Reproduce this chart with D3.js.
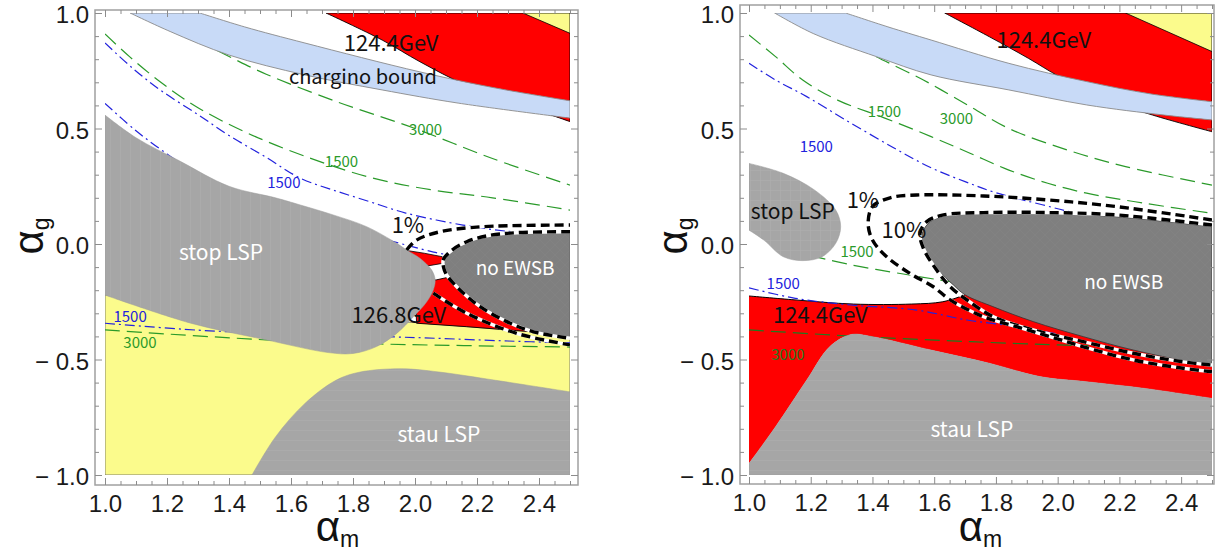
<!DOCTYPE html>
<html><head><meta charset="utf-8">
<script src="https://cdn.jsdelivr.net/npm/d3@7"></script>
<style>body{margin:0;background:#fff}svg{display:block}</style>
</head><body>
<script>
// ---------------- axes / ticks ----------------
const X_DOMAIN = [1.0, 2.5];
const Y_DOMAIN = [-1.0, 1.0];
const X_MAJOR = [1.0, 1.2, 1.4, 1.6, 1.8, 2.0, 2.2, 2.4];
const Y_MAJOR = [-1.0, -0.5, 0.0, 0.5, 1.0];

// ---------------- LEFT PANEL data (alpha_m, alpha_g) ----------------
const L_yellow = [[1.0,-1.0],[1.0,-0.22],[1.5,-0.30],[2.0,-0.34],[2.38,-0.38],[2.5,-0.39],[2.5,-1.0]];
const L_redTop = [[1.713,1.0],[1.894,0.883],[2.016,0.789],[2.165,0.688],[2.35,0.60],[2.5,0.53]];
const L_yellowCorner = [[2.348,1.0],[2.5,0.912]];
const L_bandTop = [[1.306,1.0],[1.45,0.94],[1.645,0.87],[2.016,0.745],[2.261,0.675],[2.5,0.62]];
const L_bandBottom = [[2.5,0.545],[2.139,0.61],[1.894,0.667],[1.645,0.732],[1.4,0.818],[1.21,0.92],[1.081,1.0]];
const L_stop = [[1.0,0.558],[1.1,0.46],[1.24,0.36],[1.4,0.25],[1.55,0.2],[1.63,0.169],[1.736,0.126],[1.844,0.075],[1.941,0.003],[1.973,-0.026],[2.016,-0.062],[2.054,-0.113],[2.065,-0.156],[2.059,-0.199],[2.038,-0.25],[1.995,-0.315],[1.941,-0.387],[1.876,-0.444],[1.8,-0.474],[1.72,-0.47],[1.52,-0.415],[1.277,-0.343],[1.0,-0.221]];
const L_stau = [[1.474,-1.0],[1.55,-0.835],[1.645,-0.69],[1.745,-0.59],[1.82,-0.555],[1.955,-0.54],[2.077,-0.554],[2.26,-0.59],[2.5,-0.64]];
const L_noEWSB = [[2.5,0.053],[2.328,0.049],[2.231,0.035],[2.167,0.01],[2.113,-0.033],[2.091,-0.069],[2.092,-0.1],[2.102,-0.134],[2.145,-0.199],[2.21,-0.271],[2.296,-0.336],[2.382,-0.38],[2.5,-0.408]];
const L_redPiece = [[1.973,-0.028],[2.03,-0.04],[2.088,-0.055],[2.092,-0.083],[2.04,-0.095]];
const L_redWedge = [[2.0,-0.17],[2.07,-0.155],[2.104,-0.145],[2.145,-0.199],[2.21,-0.271],[2.296,-0.336],[2.382,-0.38],[2.328,-0.375],[2.167,-0.358],[2.005,-0.343]];
const L_green3000 = [[1.3,0.88],[1.41,0.805],[1.52,0.735],[1.75,0.615],[2.0,0.5],[2.25,0.37],[2.5,0.255]];
const L_green1500 = [[1.0,0.909],[1.08,0.81],[1.18,0.70],[1.30,0.59],[1.46,0.48],[1.645,0.38],[1.85,0.29],[2.05,0.235],[2.25,0.2],[2.5,0.147]];
const L_blueA = [[1.0,0.87],[1.09,0.76],[1.18,0.665],[1.3,0.56],[1.4,0.47],[1.52,0.375],[1.63,0.285],[1.735,0.234],[1.85,0.185],[1.97,0.134],[2.155,0.082],[2.3,0.055],[2.42,0.045]];
const L_blueB = [[1.0,0.609],[1.1,0.49],[1.2,0.39],[1.3,0.30],[1.5,0.18],[1.7,0.08],[1.85,0.035],[1.93,0.01],[2.06,-0.035],[2.12,-0.05]];
const L_blueLow = [[1.0,-0.343],[1.3,-0.373],[1.6,-0.39],[2.0,-0.405],[2.3,-0.42],[2.5,-0.428]];
const L_greenLow = [[1.0,-0.372],[1.52,-0.415],[1.89,-0.433],[2.5,-0.446]];
const L_c1Up = [[1.973,-0.026],[2.005,0.017],[2.081,0.053],[2.22,0.075],[2.5,0.082]];
const L_c1Low = [[2.059,-0.213],[2.167,-0.30],[2.328,-0.387],[2.5,-0.437]];

// ---------------- RIGHT PANEL data ----------------
const R_redTop = [[1.634,1.0],[1.779,0.897],[1.905,0.804],[2.006,0.724],[2.15,0.63],[2.308,0.558],[2.5,0.486]];
const R_yellowCorner = [[2.22,1.0],[2.5,0.833]];
const R_bandTop = [[1.313,1.0],[1.45,0.94],[1.59,0.883],[1.842,0.782],[2.094,0.703],[2.3,0.65],[2.5,0.616]];
const R_bandBottom = [[2.5,0.537],[2.346,0.558],[2.094,0.602],[1.842,0.667],[1.59,0.732],[1.413,0.811],[1.21,0.91],[1.083,1.0]];
const R_stop = [[1.0,0.349],[1.111,0.306],[1.212,0.234],[1.281,0.147],[1.297,0.075],[1.281,0.003],[1.237,-0.055],[1.174,-0.072],[1.111,-0.055],[1.048,0.017],[1.0,0.06]];
const R_noEWSB = [[2.5,0.075],[2.19,0.118],[1.975,0.133],[1.76,0.133],[1.652,0.126],[1.587,0.097],[1.56,0.039],[1.57,-0.026],[1.613,-0.113],[1.662,-0.177],[1.70,-0.22],[1.79,-0.271],[1.921,-0.336],[2.083,-0.401],[2.245,-0.459],[2.5,-0.531]];
const R_redLowTop = [[1.0,-0.225],[1.149,-0.242],[1.338,-0.26],[1.527,-0.26],[1.628,-0.25],[1.70,-0.22]];
const R_stauTop = [[1.0,-0.95],[1.086,-0.791],[1.187,-0.589],[1.262,-0.444],[1.33,-0.392],[1.4,-0.401],[1.59,-0.459],[1.779,-0.516],[1.943,-0.574],[2.094,-0.596],[2.283,-0.625],[2.5,-0.668]];
const R_green1500 = [[1.0,0.905],[1.086,0.811],[1.174,0.71],[1.287,0.623],[1.44,0.545],[1.59,0.465],[1.716,0.393],[1.842,0.32],[1.968,0.263],[2.094,0.22],[2.283,0.176],[2.5,0.133]];
const R_green3000 = [[1.35,0.86],[1.413,0.811],[1.565,0.71],[1.716,0.595],[1.842,0.50],[2.031,0.407],[2.22,0.335],[2.5,0.255]];
const R_blueUp = [[1.0,0.782],[1.086,0.71],[1.187,0.638],[1.313,0.537],[1.464,0.42],[1.59,0.33],[1.7,0.27],[1.8,0.222],[1.95,0.17],[2.06,0.134],[2.2,0.11]];
const R_greenMid = [[1.2,-0.05],[1.33,-0.09],[1.5,-0.13],[1.62,-0.156],[1.7,-0.17]];
const R_blueLow = [[1.0,-0.19],[1.15,-0.235],[1.33,-0.264],[1.543,-0.286],[1.706,-0.329],[1.867,-0.358],[2.0,-0.39]];
const R_greenLow = [[1.0,-0.372],[1.35,-0.40],[1.72,-0.423],[2.0,-0.437],[2.1,-0.44]];
const R_c1 = [[2.5,0.104],[2.19,0.162],[1.975,0.19],[1.76,0.208],[1.543,0.212],[1.457,0.2],[1.40,0.162],[1.386,0.09],[1.40,0.017],[1.446,-0.055],[1.52,-0.126],[1.597,-0.185],[1.652,-0.242],[1.76,-0.315],[1.867,-0.358],[1.975,-0.401],[2.083,-0.445],[2.245,-0.502],[2.406,-0.538],[2.5,-0.553]];
const R_c10 = [[2.5,0.082],[2.19,0.126],[1.975,0.136],[1.76,0.136],[1.63,0.126],[1.576,0.097],[1.554,0.046],[1.565,-0.019],[1.608,-0.113],[1.652,-0.185],[1.706,-0.242],[1.792,-0.315],[1.921,-0.372],[2.083,-0.423],[2.245,-0.473],[2.406,-0.51],[2.5,-0.524]];

// ---------------- annotations ----------------
const L_text = [
  ["124.4GeV",1.923,0.87,"#111",22],["chargino bound",1.832,0.723,"#111",20],
  ["3000",2.034,0.494,"#2a9a2a",15],["1500",1.763,0.355,"#2a9a2a",15],["1500",1.577,0.264,"#2222dd",15],
  ["1%",1.977,0.082,"#111",22],["stop LSP",1.374,-0.039,"#fff",21],["no EWSB",2.323,-0.104,"#fff",19],
  ["126.8GeV",1.948,-0.307,"#111",22],["stau LSP",2.077,-0.827,"#fff",21],
  ["1500",1.081,-0.316,"#2222dd",15],["3000",1.113,-0.429,"#2a9a2a",15]
];
const R_text = [
  ["124.4GeV",1.955,0.883,"#111",22],["1500",1.439,0.573,"#2a9a2a",15],["3000",1.672,0.544,"#2a9a2a",15],
  ["1500",1.218,0.421,"#2222dd",15],["1%",1.369,0.19,"#111",22],["10%",1.502,0.061,"#111",22],
  ["stop LSP",1.142,0.14,"#111",21],["1500",1.35,-0.033,"#2a9a2a",15],["1500",1.111,-0.17,"#2222dd",15],
  ["124.4GeV",1.231,-0.307,"#111",22],["3000",1.126,-0.48,"#1f7a1f",15],["no EWSB",2.214,-0.167,"#fff",19],
  ["stau LSP",1.722,-0.805,"#fff",21]
];

const C = {red:"#ff0000", yellow:"#fbfb8c", band:"#c8daf7", gray:"#a6a6a6", dark:"#7f7f7f",
           green:"#2a9a2a", dgreen:"#1f7a1f", blue:"#2222dd"};
const FT = "'Liberation Sans', Arial, sans-serif";
const FL = "'Noto Sans CJK JP','Noto Sans', sans-serif";

const svg = d3.select("body").append("svg").attr("width",1230).attr("height",554);
const defs = svg.append("defs");
// subtle textures
function pat(id, bg, fg, paths, size){
  const p = defs.append("pattern").attr("id",id).attr("patternUnits","userSpaceOnUse").attr("width",size).attr("height",size);
  p.append("rect").attr("width",size).attr("height",size).attr("fill",bg);
  paths.forEach(d=>p.append("path").attr("d",d).attr("stroke",fg).attr("stroke-width",0.7).attr("fill","none"));
}
pat("pv", C.gray, "#adadad", ["M0.5,0V10"], 10);
pat("ph", C.gray, "#adadad", ["M0,0.5H10"], 10);
pat("pg", C.gray, "#aeaeae", ["M0.5,0V10","M0,0.5H10"], 10);
pat("px", C.dark, "#848484", ["M0,10L10,0","M0,0L10,10"], 10);

function panel(o){
  const sx = d3.scaleLinear().domain(X_DOMAIN).range(o.xr);
  const sy = d3.scaleLinear().domain(Y_DOMAIN).range([475,13]);
  const g = svg.append("g");
  const cid = "clip"+o.id;
  defs.append("clipPath").attr("id",cid).append("rect")
    .attr("x",sx(1)).attr("y",sy(1)).attr("width",sx(2.5)-sx(1)).attr("height",sy(-1)-sy(1));
  const plot = g.append("g").attr("clip-path",`url(#${cid})`);
  const smooth = d3.line().x(d=>sx(d[0])).y(d=>sy(d[1])).curve(d3.curveCatmullRom.alpha(0.5));
  const straight = d3.line().x(d=>sx(d[0])).y(d=>sy(d[1]));
  const region = segs => segs.map((s,i)=>{const p=(s[1]?smooth:straight)(s[0]);return i?p.replace(/^M/,"L"):p;}).join("")+"Z";
  const fill = (d,f,st,sw) => plot.append("path").attr("d",d).attr("fill",f).attr("stroke",st||"none").attr("stroke-width",sw||0);
  const line = (pts,col,dash,w) => plot.append("path").attr("d",smooth(pts)).attr("fill","none")
      .attr("stroke",col).attr("stroke-width",w||1.2).attr("stroke-dasharray",dash);
  const contour = pts => {
    plot.append("path").attr("d",smooth(pts)).attr("fill","none").attr("stroke","#fff").attr("stroke-width",3.4);
    plot.append("path").attr("d",smooth(pts)).attr("fill","none").attr("stroke","#000").attr("stroke-width",3.4)
      .attr("stroke-dasharray","9,5");
  };
  // frame
  const f = o.frame;
  g.append("rect").attr("x",f[0]).attr("y",f[2]).attr("width",f[1]-f[0]).attr("height",f[3]-f[2])
    .attr("fill","none").attr("stroke","#a0a0a0").attr("stroke-width",1.5);
  const xMinor = d3.range(1.0,2.5001,0.05).filter(v=>!X_MAJOR.some(m=>Math.abs(m-v)<1e-6));
  const yMinor = d3.range(-1.0,1.0001,0.1).filter(v=>!Y_MAJOR.some(m=>Math.abs(m-v)<1e-6));
  const yfmt = v => v<0 ? "\u2212 "+d3.format(".1f")(-v) : d3.format(".1f")(v);
  const ax = (axis,tr) => {
    const a = g.append("g").attr("transform",tr).call(axis);
    a.attr("font-size",null).attr("font-family",null);
    a.select(".domain").remove();
    a.selectAll("line").attr("stroke","#8c8c8c");
    a.selectAll("text").style("font-family",FT).style("font-size","24px").attr("fill","#1a1a1a");
    return a;
  };
  ax(d3.axisBottom(sx).tickValues(X_MAJOR).tickSize(-7).tickPadding(10).tickFormat(d3.format(".1f")),`translate(0,${f[3]})`);
  ax(d3.axisBottom(sx).tickValues(xMinor).tickSize(-4).tickFormat(""),`translate(0,${f[3]})`);
  ax(d3.axisTop(sx).tickValues(X_MAJOR).tickSize(-7).tickFormat(""),`translate(0,${f[2]})`);
  ax(d3.axisTop(sx).tickValues(xMinor).tickSize(-4).tickFormat(""),`translate(0,${f[2]})`);
  const yl = ax(d3.axisLeft(sy).tickValues(Y_MAJOR).tickSize(-7).tickPadding(6).tickFormat(yfmt),`translate(${f[0]},0)`);
  yl.selectAll("text").attr("dy","0.4em");
  ax(d3.axisLeft(sy).tickValues(yMinor).tickSize(-4).tickFormat(""),`translate(${f[0]},0)`);
  ax(d3.axisRight(sy).tickValues(Y_MAJOR).tickSize(-7).tickFormat(""),`translate(${f[1]},0)`);
  ax(d3.axisRight(sy).tickValues(yMinor).tickSize(-4).tickFormat(""),`translate(${f[1]},0)`);
  // axis titles
  const tx = g.append("text").attr("x",(sx(1)+sx(2.5))/2).attr("y",541).attr("text-anchor","middle")
    .attr("font-family","'Liberation Sans',sans-serif").attr("fill","#111");
  tx.append("tspan").attr("font-size",42).text("\u03b1");
  tx.append("tspan").attr("font-size",23).attr("dy",6).text("m");
  const ty = g.append("text").attr("transform",`translate(${o.ytx},${(sy(-1)+sy(1))/2-8}) rotate(-90)`)
    .attr("text-anchor","middle").attr("font-family","'Liberation Sans',sans-serif").attr("fill","#111");
  ty.append("tspan").attr("font-size",42).text("\u03b1");
  ty.append("tspan").attr("font-size",23).attr("dy",6).text("g");
  return {sx,sy,g,plot,smooth,straight,region,fill,line,contour};
}

// ================= LEFT =================
{
  const P = panel({id:"L", xr:[105,570], frame:[95,578,10,485], ytx:43});
  const {region,fill,line,contour,sx,sy} = P;
  fill(region([[L_yellow,false]]), C.yellow, "#666", 0.8);
  fill(region([[L_redTop,true],[[[2.5,0.53],[2.5,1.0]],false]]), C.red, "#000", 0.9);
  fill(region([[L_yellowCorner,false],[[[2.5,0.912],[2.5,1.0]],false]]), C.yellow, "#000", 0.8);
  fill(region([[L_redPiece,false]]), C.red, "#000", 0.8);
  fill(region([[L_redWedge,false]]), C.red, "#000", 0.9);
  line(L_green3000, C.green, "15,7");
  line(L_green1500, C.green, "15,7");
  line(L_blueA, C.blue, "10,4,2,4");
  line(L_blueB, C.blue, "10,4,2,4");
  line(L_blueLow, C.blue, "10,4,2,4");
  line(L_greenLow, C.green, "15,7");
  fill(region([[[[1.081,1.0],[1.306,1.0]],false],[L_bandTop,true],[[[2.5,0.62],[2.5,0.545]],false],[L_bandBottom,true]]), C.band, "#8a8a8a", 0.9);
  fill(region([[L_stop,true],[[[1.0,-0.221],[1.0,0.558]],false]]), "url(#pv)", "#9a9a9a", 0.5);
  fill(region([[L_stau,true],[[[2.5,-0.64],[2.5,-1.0],[1.474,-1.0]],false]]), "url(#ph)", "#9a9a9a", 0.5);
  fill(region([[L_noEWSB,true]]), "url(#px)", "#555", 0.6);
  contour(L_noEWSB);
  contour(L_c1Up);
  contour(L_c1Low);
  L_text.forEach(t=>P.g.append("text").attr("x",sx(t[1])).attr("y",sy(t[2])).attr("dy","0.35em")
    .attr("text-anchor","middle").attr("font-family",FL).attr("font-size",t[4]).attr("fill",t[3]).text(t[0]));
}
// ================= RIGHT =================
{
  const P = panel({id:"R", xr:[749,1212], frame:[740,1214,5,484], ytx:687});
  const {region,fill,line,contour,sx,sy} = P;
  fill(region([[R_redTop,true],[[[2.5,0.486],[2.5,1.0]],false]]), C.red, "#000", 0.9);
  fill(region([[R_yellowCorner,false],[[[2.5,0.833],[2.5,1.0]],false]]), C.yellow, "#000", 0.8);
  fill(region([[R_redLowTop,true],[[[1.75,-0.15],[2.5,-0.2],[2.5,-0.668]],false],[R_stauTop.slice().reverse(),true]]), C.red, "none", 0);
  P.plot.append("path").attr("d",P.smooth(R_redLowTop)).attr("fill","none").attr("stroke","#000").attr("stroke-width",1);
  line(R_green1500, C.green, "15,7");
  line(R_green3000, C.green, "15,7");
  line(R_blueUp, C.blue, "10,4,2,4");
  line(R_greenMid, C.green, "15,7");
  line(R_blueLow, C.blue, "10,4,2,4");
  line(R_greenLow, C.dgreen, "15,7");
  fill(region([[[[1.083,1.0],[1.313,1.0]],false],[R_bandTop,true],[[[2.5,0.616],[2.5,0.537]],false],[R_bandBottom,true]]), C.band, "#8a8a8a", 0.9);
  fill(region([[R_stop,true]]), "url(#pg)", "#9a9a9a", 0.5);
  fill(region([[[[1.0,-1.0]],false],[R_stauTop,true],[[[2.5,-1.0]],false]]), "url(#ph)", "#9a9a9a", 0.5);
  fill(region([[R_noEWSB,true]]), "url(#px)", "#333", 0.8);
  contour(R_c10);
  contour(R_c1);
  R_text.forEach(t=>P.g.append("text").attr("x",sx(t[1])).attr("y",sy(t[2])).attr("dy","0.35em")
    .attr("text-anchor","middle").attr("font-family",FL).attr("font-size",t[4]).attr("fill",t[3]).text(t[0]));
}
</script>
</body></html>
